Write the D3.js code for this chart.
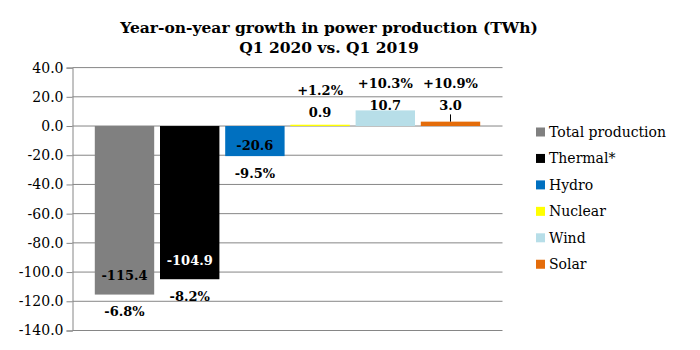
<!DOCTYPE html>
<html>
<head>
<meta charset="utf-8">
<script src="https://cdn.jsdelivr.net/npm/d3@7"></script>
<style>
  body { margin: 0; background: #fff; }
  text { font-family: "DejaVu Serif", serif; }
</style>
</head>
<body>
<div id="chart"></div>
<script>
// data
series = ["Total production", "Thermal*", "Hydro", "Nuclear", "Wind", "Solar"]
values = [-115.4, -104.9, -20.6, 0.9, 10.7, 3.0]
growth = ["-6.8%", "-8.2%", "-9.5%", "+1.2%", "+10.3%", "+10.9%"]
colors = ["#808080", "#000000", "#0070c0", "#ffff00", "#b7dee8", "#e46c0a"]
yTicks = [40, 20, 0, -20, -40, -60, -80, -100, -120, -140]
titleLines = ["Year-on-year growth in power production (TWh)", "Q1 2020 vs. Q1 2019"]

width = 700, height = 350
plot = {left: 72.5, right: 502.5, top: 67.6, bottom: 330.5}

svg = d3.select("#chart")
  .append("svg")
  .attr("width", width)
  .attr("height", height)

// title
svg.append("g").selectAll("text")
  .data(titleLines)
  .join("text")
    .attr("x", 329)
    .attr("y", (d, i) => 33 + i * 20)
    .attr("text-anchor", "middle")
    .style("font-size", "15.5px")
    .style("font-weight", "bold")
    .text(d => d)

// scales
y = d3.scaleLinear()
  .domain([-140, 40])
  .range([plot.bottom, plot.top])

x = d3.scaleBand()
  .domain(series)
  .range([plot.left, plot.right])
  .paddingInner(0.089)
  .paddingOuter(0.342)

// gridlines
svg.append("g").selectAll("line")
  .data(yTicks)
  .join("line")
    .attr("x1", plot.left)
    .attr("x2", plot.right)
    .attr("y1", d => y(d))
    .attr("y2", d => y(d))
    .style("stroke", "#868686")
    .style("stroke-width", 1)

// y axis
yAxis = svg.append("g")
  .attr("transform", `translate(${plot.left}, 0)`)
  .call(d3.axisLeft(y).tickValues(yTicks).tickSize(6).tickPadding(3).tickFormat(d => d.toFixed(1)))
yAxis.selectAll("line, path").style("stroke", "#868686")
yAxis.selectAll("text")
  .style("font-size", "14px")
  .style("font-family", "DejaVu Serif, serif")
  .style("fill", "#000")

// bars
rows = series.map((s, i) => ({name: s, value: values[i], growth: growth[i], color: colors[i]}))

svg.append("g").selectAll("rect")
  .data(rows)
  .join("rect")
    .attr("x", d => x(d.name))
    .attr("width", x.bandwidth())
    .attr("y", d => y(Math.max(0, d.value)))
    .attr("height", d => Math.abs(y(d.value) - y(0)))
    .style("fill", d => d.color)

// label placement
rowY = y(d3.max(values)) - 5
function valueY(d) {
  if (d.value < 0) {
    h = y(d.value) - y(0)
    return y(d.value) - Math.min(19, h * 0.37)
  }
  return d.value < 1 ? y(d.value) - 12 : rowY
}
function growthY(d) {
  return d.value < 0 ? y(d.value) + 17 : valueY(d) - 22
}

// leader lines for labels lifted off their bar
svg.append("g").selectAll("line")
  .data(rows.filter(d => d.value >= 1 && y(d.value) - valueY(d) > 13))
  .join("line")
    .attr("x1", d => x(d.name) + x.bandwidth() / 2)
    .attr("x2", d => x(d.name) + x.bandwidth() / 2)
    .attr("y1", d => valueY(d) + 9)
    .attr("y2", d => y(d.value))
    .style("stroke", "#000")

labels = svg.append("g")
  .style("font-size", "13px")
  .style("font-weight", "bold")
  .attr("text-anchor", "middle")

labels.selectAll(".val")
  .data(rows)
  .join("text")
    .attr("class", "val")
    .attr("x", d => x(d.name) + x.bandwidth() / 2)
    .attr("y", d => valueY(d))
    .attr("dy", "0.35em")
    .style("fill", d => d.color == "#000000" ? "#fff" : "#000")
    .text(d => d.value.toFixed(1))

labels.selectAll(".pct")
  .data(rows)
  .join("text")
    .attr("class", "pct")
    .attr("x", d => x(d.name) + x.bandwidth() / 2)
    .attr("y", d => growthY(d))
    .attr("dy", "0.35em")
    .style("fill", "#000")
    .text(d => d.growth)

// legend
legend = svg.append("g").selectAll("g")
  .data(rows)
  .join("g")
    .attr("transform", (d, i) => `translate(536, ${132 + i * 26.45})`)
legend.append("rect")
  .attr("y", -4.5)
  .attr("width", 9)
  .attr("height", 9)
  .style("fill", d => d.color)
legend.append("text")
  .attr("x", 13)
  .attr("dy", "0.35em")
  .style("font-size", "14px")
  .text(d => d.name)
</script>
</body>
</html>
